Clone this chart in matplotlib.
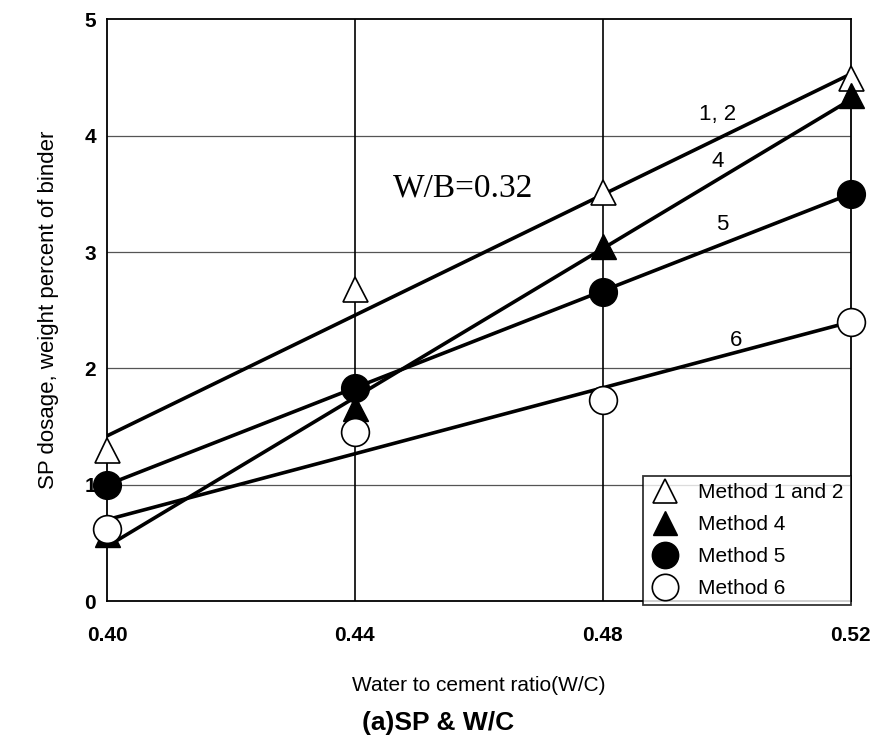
import matplotlib
matplotlib.use("Agg")
import matplotlib.pyplot as plt
from matplotlib import font_manager

plt.rcParams['font.family'] = ['Liberation Sans', 'DejaVu Sans']

wc = [0.40, 0.44, 0.48, 0.52]
m12 = [1.30, 2.68, 3.52, 4.50]
m4 = [0.58, 1.66, 3.05, 4.35]
m5 = [1.00, 1.83, 2.66, 3.50]
m6 = [0.62, 1.45, 1.73, 2.40]

fit_x = [0.40, 0.52]
fit12 = [1.42, 4.53]
fit4 = [0.47, 4.31]
fit5 = [1.00, 3.50]
fit6 = [0.70, 2.40]

line_labels = ["1, 2", "4", "5", "6"]
line_label_pos = [(0.4985, 4.18), (0.4985, 3.78), (0.4993, 3.24), (0.5015, 2.24)]

names = {f.name for f in font_manager.fontManager.ttflist}
narrow = 'Liberation Sans Narrow' if 'Liberation Sans Narrow' in names else 'Liberation Sans'

fig = plt.figure(figsize=(8.77, 7.44), dpi=100)
ax = fig.add_axes([0.122, 0.192, 0.848, 0.782])

ax.set_xlim(0.40, 0.52)
ax.set_ylim(0, 5)
ax.set_xticks(wc)
ax.set_xticklabels(["0.40", "0.44", "0.48", "0.52"])
ax.set_yticks([0, 1, 2, 3, 4, 5])

for yv in [1, 2, 3, 4]:
    ax.axhline(yv, color='#555555', lw=0.9, zorder=1)
for xv in [0.44, 0.48]:
    ax.axvline(xv, color='black', lw=1.2, zorder=1)

for fy in [fit12, fit4, fit5, fit6]:
    ax.plot(fit_x, fy, color='black', lw=2.6, zorder=3, solid_capstyle='butt')

ax.plot(wc, m12, linestyle='none', marker='^', ms=18, mfc='white', mec='black', mew=1.2,
        label='Method 1 and 2', zorder=4, clip_on=False)
ax.plot(wc, m4, linestyle='none', marker='^', ms=18, mfc='black', mec='black',
        label='Method 4', zorder=4, clip_on=False)
ax.plot(wc, m5, linestyle='none', marker='o', ms=20, mfc='black', mec='black',
        label='Method 5', zorder=4, clip_on=False)
ax.plot(wc, m6, linestyle='none', marker='o', ms=20, mfc='white', mec='black', mew=1.2,
        label='Method 6', zorder=4, clip_on=False)

for lab, (lx, ly) in zip(line_labels, line_label_pos):
    ax.text(lx, ly, lab, fontsize=16, ha='center', va='center', zorder=5)

ax.text(0.4575, 3.55, "W/B=0.32", fontsize=24, family=['Liberation Serif', 'DejaVu Serif'],
        ha='center', va='center', zorder=5)

for s in ax.spines.values():
    s.set_linewidth(1.3)
    s.set_color('black')

ax.tick_params(axis='both', length=0, labelsize=15)
ax.tick_params(axis='x', pad=18)
ax.tick_params(axis='y', pad=8)
for t in ax.get_yticklabels() + ax.get_xticklabels():
    t.set_fontweight('bold')

ax.set_ylabel("SP dosage, weight percent of binder", fontsize=16, labelpad=18)
ax.set_xlabel("Water to cement ratio(W/C)", fontsize=15, labelpad=22)
fig.text(0.5, 0.028, "(a)SP & W/C", fontsize=19, fontweight='bold', ha='center', va='center')

leg = ax.legend(loc='lower right', bbox_to_anchor=(1.0, -0.007), frameon=True, fancybox=False,
                edgecolor='black', prop={'family': [narrow, 'DejaVu Sans'], 'size': 15},
                borderpad=0.35, labelspacing=0.62, handletextpad=0.9, handlelength=1.4,
                borderaxespad=0.0, markerscale=0.95)
leg.get_frame().set_linewidth(1.3)
leg.set_zorder(6)

fig.savefig("out.png", dpi=100)
